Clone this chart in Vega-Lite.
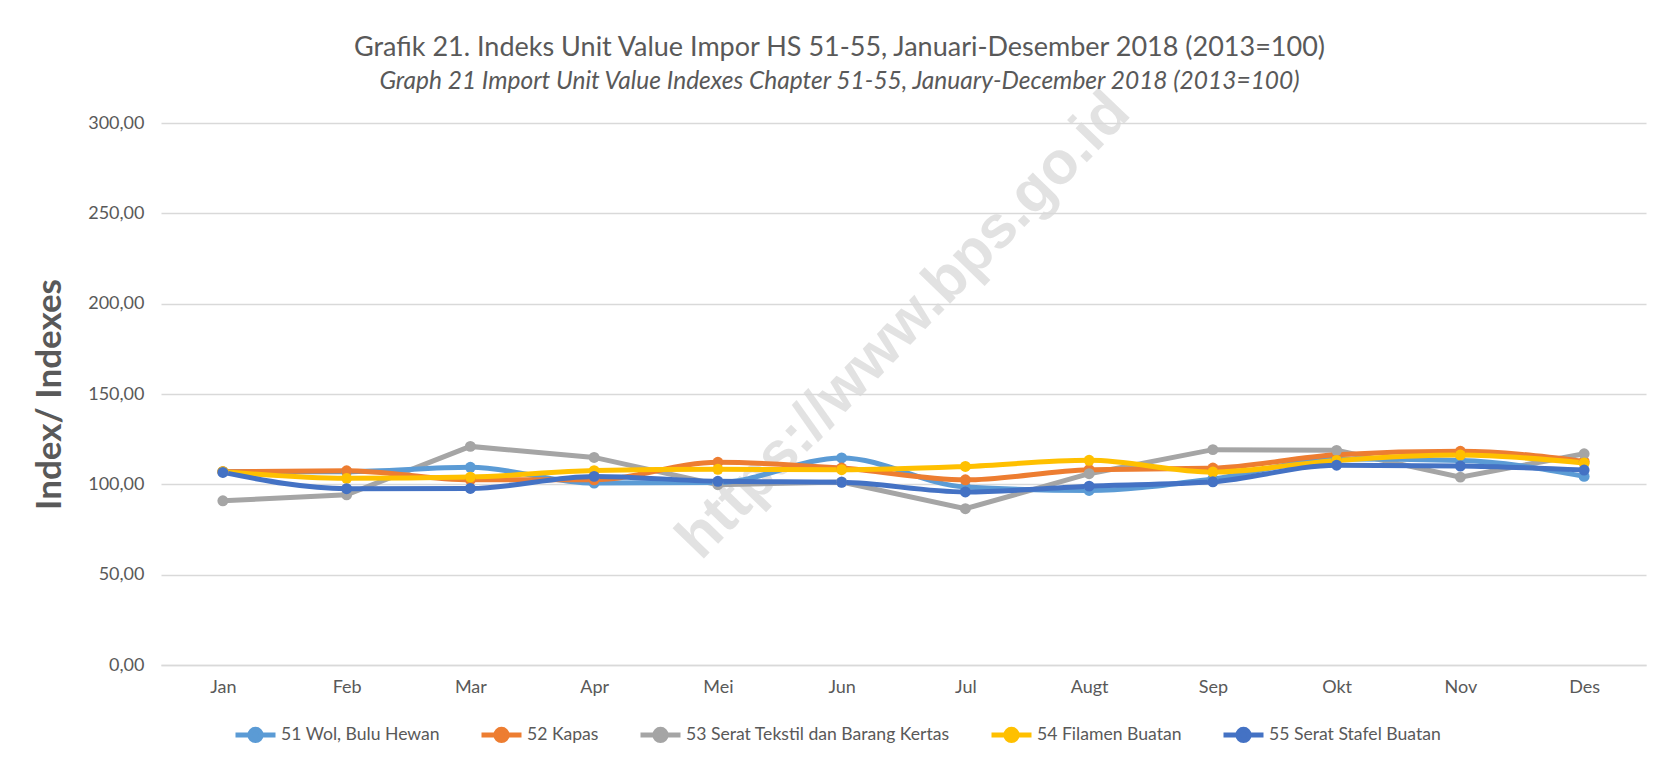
{
  "$schema": "https://vega.github.io/schema/vega-lite/v6.json",
  "autosize": {"type": "none"},
  "width": 1485,
  "height": 542,
  "padding": {"left": 161, "top": 123, "right": 19, "bottom": 95},
  "background": "white",
  "title": {
    "text": "Grafik 21. Indeks Unit Value Impor HS 51-55, Januari-Desember 2018 (2013=100)",
    "subtitle": "Graph 21 Import Unit Value Indexes Chapter 51-55, January-December 2018 (2013=100)",
    "font": "Lato",
    "fontSize": 27,
    "fontWeight": "normal",
    "color": "#595959",
    "subtitleFont": "Lato",
    "subtitleFontSize": 24.5,
    "subtitleFontStyle": "italic",
    "subtitleColor": "#595959",
    "subtitlePadding": 8,
    "anchor": "middle",
    "frame": "group",
    "dx": -64,
    "offset": -13
  },
  "datasets": {
    "series": [
      {"seri": "51 Wol, Bulu Hewan", "bulan": "Jan", "indeks": 107.0},
      {"seri": "51 Wol, Bulu Hewan", "bulan": "Feb", "indeks": 107.0},
      {"seri": "51 Wol, Bulu Hewan", "bulan": "Mar", "indeks": 109.4},
      {"seri": "51 Wol, Bulu Hewan", "bulan": "Apr", "indeks": 100.7},
      {"seri": "51 Wol, Bulu Hewan", "bulan": "Mei", "indeks": 101.0},
      {"seri": "51 Wol, Bulu Hewan", "bulan": "Jun", "indeks": 114.6},
      {"seri": "51 Wol, Bulu Hewan", "bulan": "Jul", "indeks": 98.5},
      {"seri": "51 Wol, Bulu Hewan", "bulan": "Augt", "indeks": 96.6},
      {"seri": "51 Wol, Bulu Hewan", "bulan": "Sep", "indeks": 103.0},
      {"seri": "51 Wol, Bulu Hewan", "bulan": "Okt", "indeks": 114.0},
      {"seri": "51 Wol, Bulu Hewan", "bulan": "Nov", "indeks": 113.2},
      {"seri": "51 Wol, Bulu Hewan", "bulan": "Des", "indeks": 104.4},
      {"seri": "52 Kapas", "bulan": "Jan", "indeks": 107.0},
      {"seri": "52 Kapas", "bulan": "Feb", "indeks": 107.5},
      {"seri": "52 Kapas", "bulan": "Mar", "indeks": 102.5},
      {"seri": "52 Kapas", "bulan": "Apr", "indeks": 102.5},
      {"seri": "52 Kapas", "bulan": "Mei", "indeks": 112.2},
      {"seri": "52 Kapas", "bulan": "Jun", "indeks": 109.0},
      {"seri": "52 Kapas", "bulan": "Jul", "indeks": 102.5},
      {"seri": "52 Kapas", "bulan": "Augt", "indeks": 108.1},
      {"seri": "52 Kapas", "bulan": "Sep", "indeks": 109.0},
      {"seri": "52 Kapas", "bulan": "Okt", "indeks": 116.4},
      {"seri": "52 Kapas", "bulan": "Nov", "indeks": 118.3},
      {"seri": "52 Kapas", "bulan": "Des", "indeks": 112.7},
      {"seri": "53 Serat Tekstil dan Barang Kertas", "bulan": "Jan", "indeks": 90.9},
      {"seri": "53 Serat Tekstil dan Barang Kertas", "bulan": "Feb", "indeks": 94.2},
      {"seri": "53 Serat Tekstil dan Barang Kertas", "bulan": "Mar", "indeks": 121.0},
      {"seri": "53 Serat Tekstil dan Barang Kertas", "bulan": "Apr", "indeks": 114.9},
      {"seri": "53 Serat Tekstil dan Barang Kertas", "bulan": "Mei", "indeks": 99.8},
      {"seri": "53 Serat Tekstil dan Barang Kertas", "bulan": "Jun", "indeks": 101.3},
      {"seri": "53 Serat Tekstil dan Barang Kertas", "bulan": "Jul", "indeks": 86.5},
      {"seri": "53 Serat Tekstil dan Barang Kertas", "bulan": "Augt", "indeks": 105.9},
      {"seri": "53 Serat Tekstil dan Barang Kertas", "bulan": "Sep", "indeks": 119.2},
      {"seri": "53 Serat Tekstil dan Barang Kertas", "bulan": "Okt", "indeks": 118.8},
      {"seri": "53 Serat Tekstil dan Barang Kertas", "bulan": "Nov", "indeks": 104.0},
      {"seri": "53 Serat Tekstil dan Barang Kertas", "bulan": "Des", "indeks": 116.9},
      {"seri": "54 Filamen Buatan", "bulan": "Jan", "indeks": 107.0},
      {"seri": "54 Filamen Buatan", "bulan": "Feb", "indeks": 103.3},
      {"seri": "54 Filamen Buatan", "bulan": "Mar", "indeks": 104.0},
      {"seri": "54 Filamen Buatan", "bulan": "Apr", "indeks": 107.6},
      {"seri": "54 Filamen Buatan", "bulan": "Mei", "indeks": 108.3},
      {"seri": "54 Filamen Buatan", "bulan": "Jun", "indeks": 108.1},
      {"seri": "54 Filamen Buatan", "bulan": "Jul", "indeks": 109.9},
      {"seri": "54 Filamen Buatan", "bulan": "Augt", "indeks": 113.3},
      {"seri": "54 Filamen Buatan", "bulan": "Sep", "indeks": 106.8},
      {"seri": "54 Filamen Buatan", "bulan": "Okt", "indeks": 113.2},
      {"seri": "54 Filamen Buatan", "bulan": "Nov", "indeks": 116.2},
      {"seri": "54 Filamen Buatan", "bulan": "Des", "indeks": 111.8},
      {"seri": "55 Serat Stafel Buatan", "bulan": "Jan", "indeks": 106.6},
      {"seri": "55 Serat Stafel Buatan", "bulan": "Feb", "indeks": 97.6},
      {"seri": "55 Serat Stafel Buatan", "bulan": "Mar", "indeks": 97.7},
      {"seri": "55 Serat Stafel Buatan", "bulan": "Apr", "indeks": 104.4},
      {"seri": "55 Serat Stafel Buatan", "bulan": "Mei", "indeks": 101.7},
      {"seri": "55 Serat Stafel Buatan", "bulan": "Jun", "indeks": 101.1},
      {"seri": "55 Serat Stafel Buatan", "bulan": "Jul", "indeks": 95.8},
      {"seri": "55 Serat Stafel Buatan", "bulan": "Augt", "indeks": 99.0},
      {"seri": "55 Serat Stafel Buatan", "bulan": "Sep", "indeks": 101.4},
      {"seri": "55 Serat Stafel Buatan", "bulan": "Okt", "indeks": 110.6},
      {"seri": "55 Serat Stafel Buatan", "bulan": "Nov", "indeks": 110.1},
      {"seri": "55 Serat Stafel Buatan", "bulan": "Des", "indeks": 107.9}
    ],
    "watermark": [
      {"teks": "https://www.bps.go.id", "bulan": "Jun", "indeks": 188}
    ]
  },
  "encoding": {
    "x": {
      "field": "bulan",
      "type": "ordinal",
      "sort": ["Jan", "Feb", "Mar", "Apr", "Mei", "Jun", "Jul", "Augt", "Sep", "Okt", "Nov", "Des"],
      "scale": {"type": "point", "padding": 0.5, "domain": ["Jan", "Feb", "Mar", "Apr", "Mei", "Jun", "Jul", "Augt", "Sep", "Okt", "Nov", "Des"]},
      "axis": {
        "title": null,
        "labelAngle": 0,
        "labelFont": "Lato",
        "labelFontSize": 18,
        "labelColor": "#595959",
        "labelPadding": 13,
        "ticks": false,
        "domain": true,
        "domainColor": "#d9d9d9",
        "domainWidth": 1.5,
        "grid": false
      }
    },
    "y": {
      "field": "indeks",
      "type": "quantitative",
      "scale": {"domain": [0, 300], "nice": false, "zero": true},
      "axis": {
        "title": "Index/ Indexes",
        "titleFont": "Lato",
        "titleFontSize": 35,
        "titleFontWeight": "bold",
        "titleColor": "#595959",
        "titleX": -112,
        "titleBaseline": "middle",
        "values": [0, 50, 100, 150, 200, 250, 300],
        "labelExpr": "replace(format(datum.value, '.2f'), '.', ',')",
        "labelFont": "Lato",
        "labelFontSize": 18,
        "labelColor": "#595959",
        "labelPadding": 17,
        "ticks": false,
        "domain": false,
        "grid": true,
        "gridColor": "#d9d9d9",
        "gridWidth": 1.5
      }
    }
  },
  "layer": [
    {
      "data": {"name": "watermark"},
      "mark": {
        "type": "text",
        "font": "Liberation Sans",
        "fontWeight": "bold",
        "fontSize": 60,
        "angle": 314,
        "color": "#d9d9d9",
        "opacity": 0.75,
        "align": "center",
        "baseline": "middle",
        "dx": 43,
        "dy": 45
      },
      "encoding": {"text": {"field": "teks"}}
    },
    {
      "data": {"name": "series"},
      "transform": [{"filter": "datum.seri === '53 Serat Tekstil dan Barang Kertas'"}],
      "mark": {"type": "line", "strokeWidth": 5, "interpolate": "linear"},
      "encoding": {
        "color": {"field": "seri", "type": "nominal"}
      }
    },
    {
      "data": {"name": "series"},
      "transform": [{"filter": "datum.seri !== '53 Serat Tekstil dan Barang Kertas'"}],
      "mark": {"type": "line", "strokeWidth": 5, "interpolate": "monotone"},
      "encoding": {
        "color": {"field": "seri", "type": "nominal"}
      }
    },
    {
      "data": {"name": "series"},
      "mark": {"type": "point", "filled": true, "opacity": 1, "size": 120, "shape": "circle"},
      "encoding": {
        "color": {"field": "seri", "type": "nominal"}
      }
    }
  ],
  "resolve": {"scale": {"color": "shared"}},
  "config": {
    "view": {"stroke": null},
    "range": {
      "category": ["#5b9bd5", "#ed7d31", "#a5a5a5", "#ffc000", "#4472c4"]
    },
    "legend": {
      "orient": "none",
      "legendX": 72,
      "legendY": 589,
      "direction": "horizontal",
      "columns": 5,
      "title": null,
      "symbolType": "M-1,0L-0.28,0M0.28,0L1,0M0.28,0A0.28,0.28,0,1,1,-0.28,0A0.28,0.28,0,1,1,0.28,0Z",
      "symbolSize": 1600,
      "symbolStrokeWidth": 5,
      "symbolOpacity": 1,
      "labelFont": "Lato",
      "labelFontSize": 17.6,
      "labelColor": "#595959",
      "labelOffset": 3,
      "labelLimit": 0,
      "columnPadding": 31
    }
  }
}
